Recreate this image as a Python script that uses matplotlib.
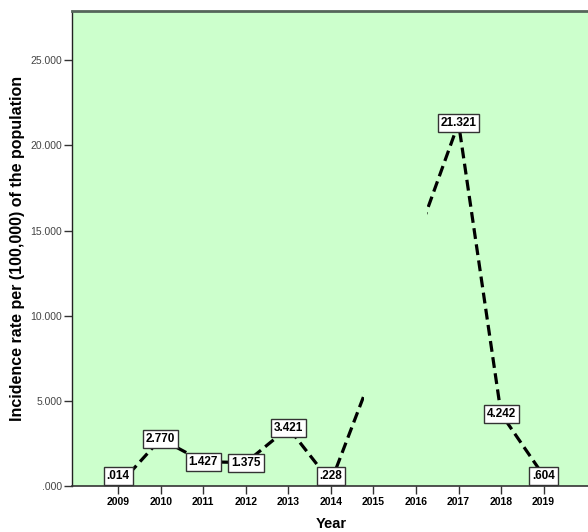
import matplotlib
matplotlib.use("Agg")
import matplotlib.pyplot as plt
from matplotlib.patches import Rectangle

years = [2009, 2010, 2011, 2012, 2013, 2014, 2015, 2016, 2017, 2018, 2019]
rates = [0.014, 2.770, 1.427, 1.375, 3.421, 0.228, 6.77, 14.4, 21.321, 4.242, 0.604]
# labels that are shown on the chart (2015 and 2016 are not visible)
labels = [".014", "2.770", "1.427", "1.375", "3.421", ".228", "", "", "21.321", "4.242", ".604"]
# visible x-ranges of the line (the part between them is hidden in the original)
visible_ranges = [(2007.0, 2014.77), (2016.26, 2021.0)]
yticks = [0, 5, 10, 15, 20, 25]
ytick_labels = [".000", "5.000", "10.000", "15.000", "20.000", "25.000"]

FONT = "Liberation Sans"

fig = plt.figure(figsize=(5.88, 5.32), dpi=100)
ax = fig.add_axes([72/588, 1 - 486/532, (590-72)/588, (486-11)/532])
ax.set_facecolor("#ccffcc")
ax.set_xlim(2007.915, 2020.09)
ax.set_ylim(0, 27.9)

for lo, hi in visible_ranges:
    ln, = ax.plot(years, rates, color="black", lw=2.3, dashes=(3.4, 1.7),
                  solid_capstyle="butt", dash_capstyle="butt", zorder=2)
    clip = Rectangle((lo, -10), hi - lo, 100, transform=ax.transData)
    ln.set_clip_path(clip)

box = dict(boxstyle="square,pad=0.25", fc="white", ec="#333333", lw=1.0)
for x, y, t in zip(years, rates, labels):
    if not t:
        continue
    if y < 0.65:
        ax.annotate(t, (x, 0), xytext=(0, 2.6), textcoords="offset points",
                    ha="center", va="bottom", fontsize=8.5, fontweight="bold",
                    family=FONT, zorder=4, bbox=box)
    else:
        ax.text(x, y, t, ha="center", va="center", fontsize=8.5, fontweight="bold",
                family=FONT, zorder=4, bbox=box)

ax.set_xticks(years)
ax.set_xticklabels([str(y) for y in years], fontsize=7.5, fontweight="bold", family=FONT)
ax.set_yticks(yticks)
ax.set_yticklabels(ytick_labels, fontsize=7.5, family=FONT, color="#444444")
ax.tick_params(axis="x", length=6, width=1, color="#333333", pad=2)
ax.tick_params(axis="y", length=6, width=1, color="#333333", pad=1)

ax.spines["right"].set_visible(False)
ax.spines["top"].set_color("#55665a")
ax.spines["top"].set_linewidth(2.0)
ax.spines["left"].set_color("#222222")
ax.spines["left"].set_linewidth(1.0)
ax.spines["bottom"].set_color("#333333")
ax.spines["bottom"].set_linewidth(1.2)

ax.set_xlabel("Year", fontsize=10.5, fontweight="bold", family=FONT, labelpad=7)
ax.set_ylabel("Incidence rate per (100,000) of the population", fontsize=11.5,
              fontweight="bold", family=FONT, labelpad=4)

fig.savefig("out.png", dpi=100)
